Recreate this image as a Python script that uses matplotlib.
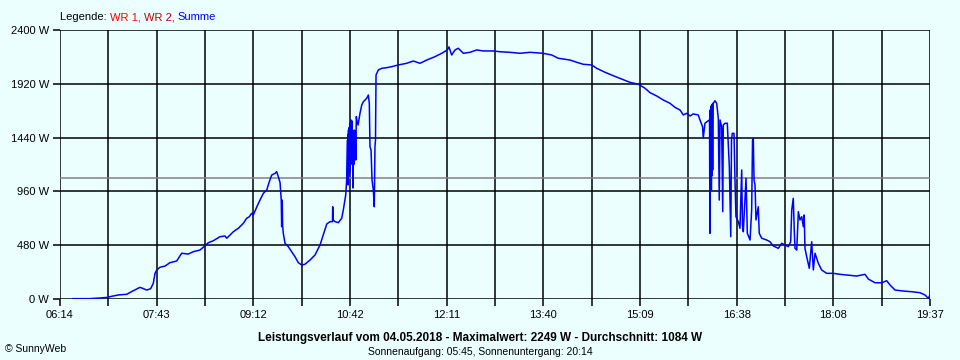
import numpy as np
import matplotlib
matplotlib.use("Agg")
import matplotlib.pyplot as plt

# Leistung Summe, Zeit in Minuten ab Mitternacht
minutes = [386, 401, 411, 418.3, 420.2, 427.8, 435.6, 441.7, 447.8, 450.3, 454, 457.7, 460.1,
           461.7, 463.3, 466.3, 471, 475.5, 481.7, 486.3, 492.4, 497, 503.2, 506.9, 510.9,
           515.5, 521.7, 526.3, 527.9, 534, 538.6, 543.2, 546.3, 548.7, 550.9, 552.4, 555.6,
           558.6, 561.7, 564.8, 567.2, 569.4, 572.5, 574, 575.5, 577.1, 578.2, 578.6, 579.1,
           579.5, 580.1, 581.7, 584.7, 587.8, 590.9, 594, 597.1, 600.1, 604.8, 609.4, 614,
           617, 620.2, 623.2, 625.5, 625.7, 626.1, 627.8, 630.9, 634, 635.5, 637.7, 638.6,
           639.4, 639.6, 639.8, 640.0, 640.3, 640.6, 640.9, 641.2, 641.5, 641.8, 642.1, 642.4,
           642.7, 643.0, 643.3, 643.6, 644.0, 644.4, 644.8, 645.2, 645.6, 646.0, 646.5, 647.0,
           647.5, 647.9, 649.1, 650.9, 652.5, 654, 657.1, 658.6, 659.5, 660.1, 661.1, 662, 663.2,
           664.1, 664.7, 665.2, 665.7, 667.8, 670.9, 675.5, 680.2, 686.2, 694, 700.1, 706.3,
           712.5, 720.1, 726.3, 731.5, 733, 735.5, 738.6, 741.6, 746.3, 752.4, 758.6, 764.7,
           773.9, 780.1, 789.4, 798.6, 807.8, 820.1, 827.8, 833.9, 844.7, 850.9, 857, 864.7,
           869.4, 877, 884.7, 892.4, 900.1, 907.8, 914, 918.6, 924.8, 930.9, 937, 941.6,
           946.3, 949.3, 952.4, 955.5, 958.5, 963.1, 964.7, 967.1, 967.7, 969.3, 972.4, 973.5,
           973.9, 974.2, 974.4, 974.6, 974.8, 975.0, 975.2, 975.5, 975.8, 976.1, 976.4, 976.7,
           977, 978.5, 980.1, 981.6, 982.5, 983.2, 984.7,
           985.7, 986.2, 987.8, 989.9, 991.8, 993.1, 993.8, 994.5, 996.1, 997, 997.9, 1000.1,
           1001.6, 1003.2, 1003.9, 1004.7, 1007.2, 1008.4, 1010.9, 1012.4, 1013.2, 1013.9,
           1014.6, 1015.5, 1016.4, 1018.5, 1019.4, 1021.7, 1026.3, 1029.3, 1032.4, 1037,
           1040.1, 1043.2, 1046.2, 1048.4, 1049.4, 1050.8, 1051.7, 1052.4, 1054, 1055.5, 1057,
           1058.6, 1060.1, 1060.9, 1061.6, 1063.2, 1065.6, 1066.7, 1067.8, 1069.3, 1070.9,
           1072.4, 1073.9, 1077, 1081.6, 1087.7, 1094, 1100.1, 1109.3, 1117, 1120.1, 1126.2,
           1132.4, 1137, 1140.1, 1144.7, 1152.4, 1160.1, 1167.8, 1172.4, 1175.4, 1177]
watts = [3, 3, 9, 15, 21, 36, 42, 74, 104, 95, 80, 92, 140,
         229, 259, 283, 294, 324, 339, 408, 401, 422, 437, 467, 502,
         520, 556, 562, 542, 600, 631, 675, 720, 734, 765, 749, 821,
         883, 943, 972, 1047, 1106, 1121, 1136, 1091, 1039, 883, 645, 883,
         651, 586, 497, 467, 422, 377, 324, 303, 310, 348, 393, 482,
         571, 669, 690, 690, 823, 705, 690, 681, 720, 794, 928, 1062,
         1419, 1040, 1470, 1017, 1508, 1106, 1530, 1120, 1552, 1151, 1570, 1200,
         1597, 1300, 1590, 1329, 1450, 990, 1463, 1200, 1508, 1300, 1500, 1240,
         1627, 1600, 1552, 1657, 1731, 1760, 1791, 1820, 1746, 1359, 1329, 1062, 972,
         823, 1359, 1419, 1999, 2043, 2058, 2064, 2073, 2088, 2103, 2123, 2103,
         2132, 2162, 2192, 2222, 2249, 2177, 2222, 2237, 2192, 2201, 2222, 2213,
         2213, 2206, 2201, 2192, 2201, 2192, 2177, 2148, 2132, 2112, 2094, 2088,
         2058, 2023, 1992, 1963, 1933, 1916, 1880, 1841, 1811, 1775, 1746, 1710,
         1686, 1642, 1657, 1633, 1651, 1642, 1597, 1537, 1434, 1568, 1591, 1597,
         586, 1686, 1062, 1700, 1000, 1720, 972, 1731, 1100, 1740, 1150, 1746,
         1746, 1769, 1746, 1612, 883, 1597, 1537,
         779, 1552, 1568, 1568, 1180, 556, 1419, 1478, 1478, 1062, 734, 690,
         631, 1151, 660, 600, 1077, 586, 526, 794, 1419, 1434,
         1062, 1017, 705, 823, 586, 542, 526, 511, 473, 452,
         497, 482, 467, 511, 794, 898, 616, 452, 437, 779, 705,
         734, 645, 749, 452, 377, 274, 393, 511, 259, 408,
         363, 319, 259, 229, 229, 220, 214, 205, 220, 178, 145,
         145, 163, 125, 80, 71, 65, 56, 36, 6, 36]

avg_w = 1084
max_w = 2249
datum = "04.05.2018"
sunrise = "05:45"
sunset = "20:14"
t_start, t_end = 374, 1177
x_labels = ["06:14", "07:43", "09:12", "10:42", "12:11", "13:40", "15:09", "16:38", "18:08", "19:37"]
y_ticks = [0, 480, 960, 1440, 1920, 2400]

bg = "#ebffff"
plt.rcParams['font.family'] = ['Liberation Sans', 'DejaVu Sans']

fig = plt.figure(figsize=(9.6, 3.6), dpi=100, facecolor=bg)
ax = fig.add_axes([60 / 960, 61 / 360, 870 / 960, 269 / 360], facecolor=bg)

ax.set_xlim(t_start, t_end)
ax.set_ylim(0, 2400)

x_grid = np.linspace(t_start, t_end, 19)
for xv in x_grid:
    ax.axvline(xv, color="black", lw=1.1, zorder=1)
for yv in y_ticks:
    ax.axhline(yv, color="black", lw=1.1, zorder=1)
ax.axhline(avg_w, color="#808080", lw=1.1, zorder=1)

ax.plot(minutes, watts, color="#0000ff", lw=1.1, zorder=3)

ax.set_xticks(x_grid)
ax.set_xticklabels([x_labels[i // 2] if i % 2 == 0 else "" for i in range(19)])
ax.set_yticks(y_ticks)
ax.set_yticklabels([f"{v} W" for v in y_ticks])
ax.tick_params(axis="both", length=5, width=1.1, color="black", labelsize=8, pad=3)
for s in ax.spines.values():
    s.set_visible(False)

# Legende oben
fig.canvas.draw()
renderer = fig.canvas.get_renderer()
pieces = [("Legende: ", "black"), ("WR 1, ", "#ff0000"), ("WR 2, ", "#c00000"), ("Summe", "#0000ff")]
xpos = 60
for txt, col in pieces:
    t = fig.text(xpos / 960, 1 - 17 / 360, txt, color=col, fontsize=8, va="center", ha="left")
    xpos = t.get_window_extent(renderer).x1

fig.text(0.5, 1 - 338 / 360,
         f"Leistungsverlauf vom {datum} - Maximalwert: {max_w} W - Durchschnitt: {avg_w} W",
         ha="center", va="center", fontsize=8.5, fontweight="bold")
fig.text(0.5, 1 - 352 / 360, f"Sonnenaufgang: {sunrise}, Sonnenuntergang: {sunset}",
         ha="center", va="center", fontsize=7.5)
fig.text(5 / 960, 1 - 349 / 360, "© SunnyWeb", ha="left", va="center", fontsize=7.5)

fig.savefig("out.png", dpi=100, facecolor=bg)
